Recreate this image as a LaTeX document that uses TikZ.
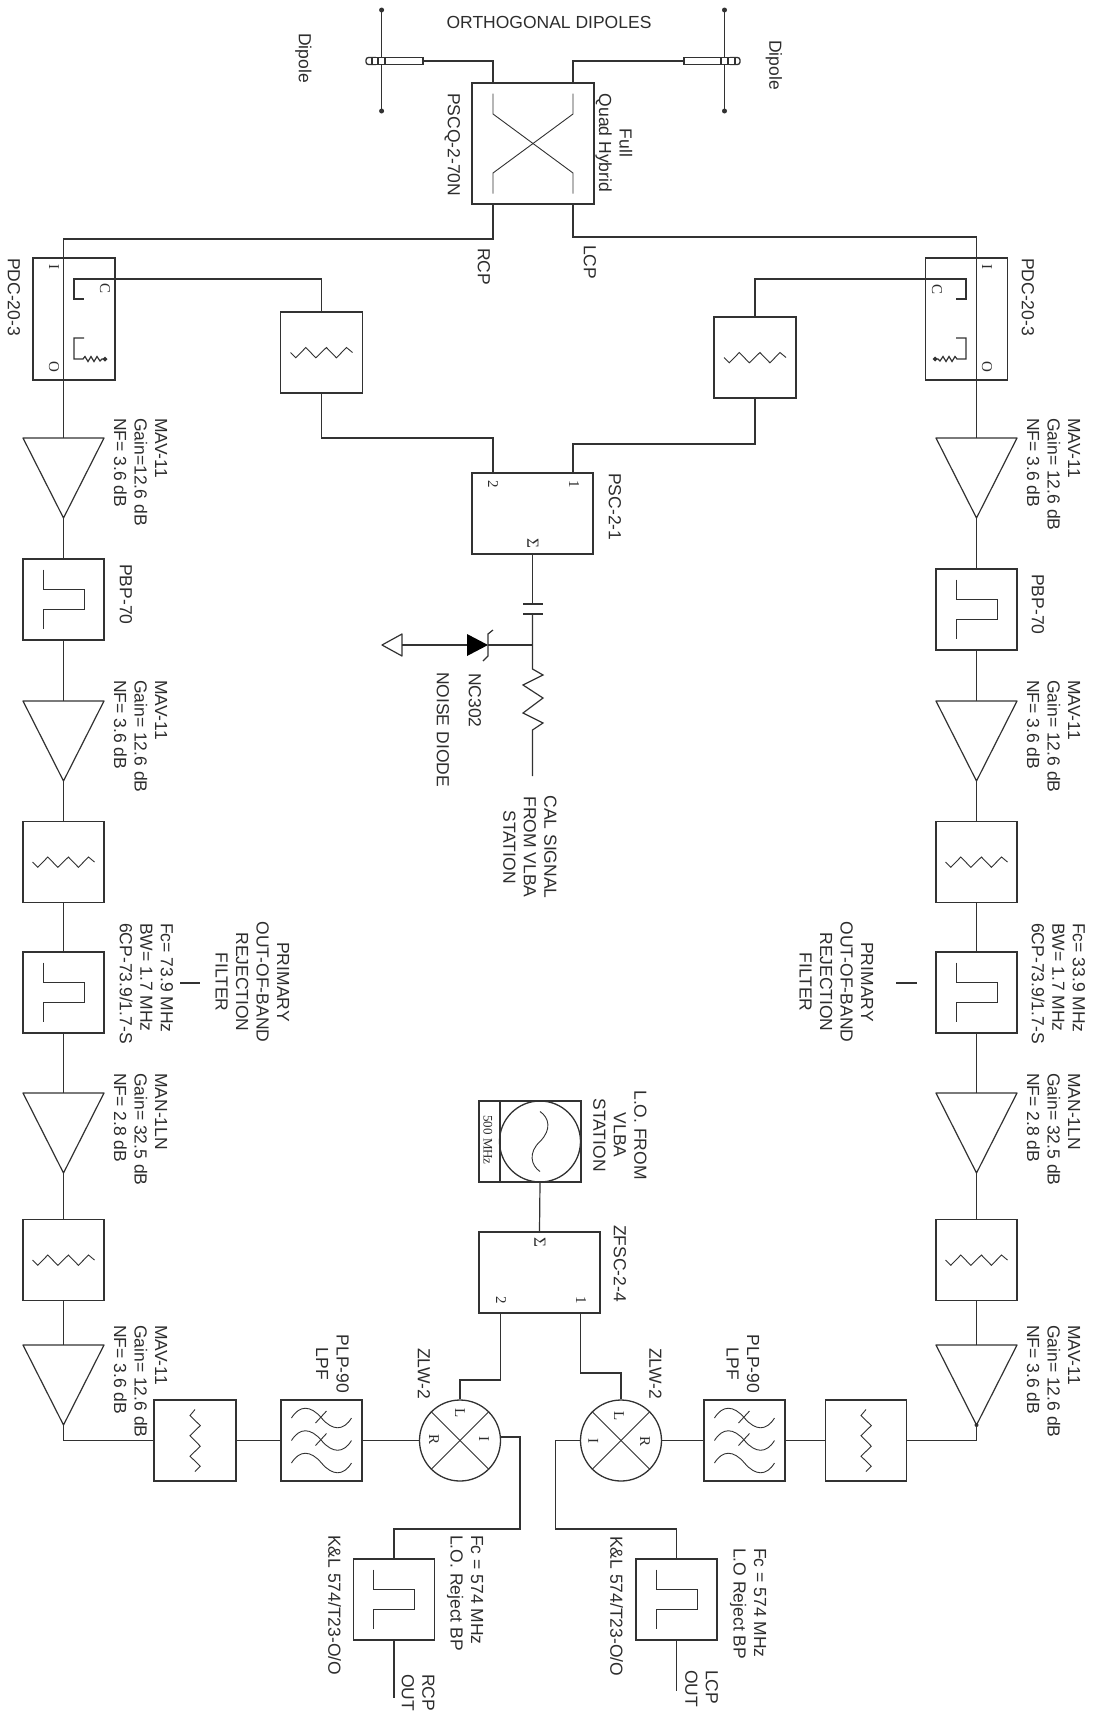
\documentclass[tikz,border=0pt]{standalone}
\usepackage{fontspec}
\setmainfont{Liberation Sans}
\newfontfamily\portfont{Liberation Serif}
\definecolor{rxLine}{RGB}{50,50,50}
\definecolor{rxText}{RGB}{45,45,45}
\tikzset{
  wire/.style={draw=rxLine, line width=1.2pt},
  symline/.style={draw=rxLine, line width=0.9pt},
  unitbox/.style={draw=rxLine, line width=1.3pt, fill=white, inner sep=0pt, minimum width=81pt, minimum height=81pt},
  lblflat/.style={inner sep=0pt, text=rxText, font=\fontsize{17.5}{20.5}\selectfont},
  lbl/.style={lblflat, rotate=-90, anchor=north west, align=left},
  lblmid/.style={lblflat, rotate=-90, anchor=center, align=center},
  port/.style={rotate=-90, inner sep=0pt, text=rxText, font=\portfont\fontsize{15}{15}\selectfont},
}
\newcommand{\ampli}[3]{%
  \coordinate (#1in) at (#2,#3);
  \coordinate (#1out) at (#2,#3+80);
  \draw[rxLine, line width=1.2pt, line join=round] (#2-40.5,#3) -- (#2+40.5,#3) -- (#2,#3+80) -- cycle;
}
\newcommand{\attnzig}[2][0]{%
  \draw[symline, shift={(#2.center)}, rotate=#1] (-31,0) -- (-25.7,5.3) -- (-15.7,-5) -- (-5.7,5.3) -- (4.9,-5) -- (14.9,5.3) -- (25,-5) -- (31,0);
}
\newcommand{\bandpass}[1]{%
  \draw[symline, shift={(#1.center)}] (-20.5,-30) -- (-20.5,-10) -- (20.5,-10) -- (20.5,10) -- (-20.5,10) -- (-20.5,29);
}
\newcommand{\lowpass}[1]{%
  \begin{scope}[shift={(#1.center)}]
  \foreach \wy in {-22.5,0,22.5}
    \draw[symline] (-30,\wy) .. controls (-22,\wy-13) and (-11,\wy-13) .. (0,\wy) .. controls (11,\wy+13) and (22,\wy+13) .. (30,\wy);
  \foreach \wy in {-22.5,0}
    \draw[symline] (5,\wy-7) -- (-6,\wy+5);
  \end{scope}
}
\newcommand{\termination}{%
  \draw[wire] (84,338) -- (74,338) -- (74,359) -- (83,359) -- (85,356.5) -- (88,361.5) -- (91,356.5) -- (94,361.5) -- (97,356.5) -- (100,361) -- (102,359) -- (105,359);
  \fill[rxLine] (105,356.5) -- (107.5,359) -- (105,361.5) -- (102.5,359) -- cycle;
}
\begin{document}
\begin{tikzpicture}[x=1pt, y=-1pt]
\useasboundingbox (0,0) rectangle (1095,1711);
%% Dipoles and hybrid
\node[lblflat] (tOrtho) at (549,22) {ORTHOGONAL DIPOLES};
\draw[wire] (381.6,10) -- (381.6,111);
\draw[wire] (724.5,10) -- (724.5,111);
\foreach \dx in {381.6,724.5}
  \foreach \dy in {10,111}
    \fill[rxLine] (\dx,\dy) circle (2.5pt);
\node[unitbox, rounded corners=2.5pt, minimum width=12pt, minimum height=7pt] (capL) at (372,61) {};
\node[unitbox, minimum width=51pt, minimum height=7pt] (tubeL) at (397.5,61) {};
\node[unitbox, minimum width=7pt, minimum height=7pt] (sqL) at (381.6,61) {};
\node[unitbox, rounded corners=2.5pt, minimum width=12pt, minimum height=7pt] (capR) at (734,61) {};
\node[unitbox, minimum width=51pt, minimum height=7pt] (tubeR) at (709.5,61) {};
\node[unitbox, minimum width=7pt, minimum height=7pt] (sqR) at (724.5,61) {};
\node[unitbox, minimum width=122pt, minimum height=121pt] (hyb) at (533,143.5) {};
\draw[symline, shift={(hyb.center)}] (-40,-50) -- (-40,-29.5) -- (40,29.5) -- (40,50);
\draw[symline, shift={(hyb.center)}] (40,-50) -- (40,-29.5) -- (-40,29.5) -- (-40,50);
\coordinate (hybInL) at (493,83);
\coordinate (hybInR) at (573,83);
\coordinate (hybOutL) at (493,204);
\coordinate (hybOutR) at (573,204);
\coordinate (bendRCP) at (63.5,239);
\coordinate (bendLCP) at (976.5,237);
\draw[wire] (tubeL.east) -| (hybInL);
\draw[wire] (tubeR.west) -| (hybInR);
\node[lbl] (tDipL) at (311.8,33) {Dipole};
\node[lbl] (tDipR) at (782.3,40) {Dipole};
\node[lbl] (tPscq) at (460.3,93) {PSCQ-2-70N};
\node[lblmid] (tHyb) at (614,143) {Full\\Quad Hybrid};
\node[lbl] (tRcp) at (490.3,248) {RCP};
\node[lbl] (tLcp) at (596.3,245) {LCP};
%% Left chain
\node[unitbox, minimum width=82pt, minimum height=122pt, fill=none] (pdcL) at (74,319) {};
\ampli{ampLa}{63.5}{438}
\node[unitbox] (pbpL) at (63.5,599.5) {};
\ampli{ampLb}{63.5}{701}
\node[unitbox] (attLb) at (63.5,862) {};
\node[unitbox] (fltL) at (63.5,992.5) {};
\ampli{ampLc}{63.5}{1093}
\node[unitbox] (attLc) at (63.5,1260) {};
\ampli{ampLd}{63.5}{1345}
\node[unitbox, minimum width=82pt] (attLd) at (195,1440.5) {};
\node[unitbox] (plpL) at (321.5,1440.5) {};
\node[unitbox, circle, minimum size=81pt] (mixL) at (460,1440.5) {};
\node[unitbox] (fltRCP) at (394,1599.5) {};
\attnzig{attLb}
\attnzig{attLc}
\attnzig[90]{attLd}
\bandpass{pbpL}
\bandpass{fltL}
\bandpass{fltRCP}
\lowpass{plpL}
\draw[symline] (mixL.north west) -- (mixL.south east);
\draw[symline] (mixL.north east) -- (mixL.south west);
\coordinate (bendMixL) at (500.5,1380);
\coordinate (zfscOutL) at (500.5,1313);
\coordinate (bendOutL) at (520,1529);
\coordinate (endRCP) at (394,1698);
\draw[wire] (hybOutL) |- (bendRCP) -- (ampLain);
\draw[wire] (ampLaout) -- (pbpL.north);
\draw[wire] (pbpL.south) -- (ampLbin);
\draw[wire] (ampLbout) -- (attLb.north);
\draw[wire] (attLb.south) -- (fltL.north);
\draw[wire] (fltL.south) -- (ampLcin);
\draw[wire] (ampLcout) -- (attLc.north);
\draw[wire] (attLc.south) -- (ampLdin);
\draw[wire] (ampLdout) |- (attLd.west);
\draw[wire] (attLd.east) -- (plpL.west);
\draw[wire] (plpL.east) -- (mixL.west);
\draw[wire] (mixL.north) |- (bendMixL) -- (zfscOutL);
\draw[wire] (mixL.5) -| (bendOutL) -| (fltRCP.north);
\draw[wire] (fltRCP.south) -- (endRCP);
\node[port] (pIL) at (54,267) {I};
\node[port] (pCL) at (105,288) {C};
\node[port] (pOL) at (54,367) {O};
\node[port] (mLL) at (460,1413) {L};
\node[port] (mRL) at (434,1439) {R};
\node[port] (mIL) at (484,1439) {I};
\node[lbl] (tPdcL) at (20.3,258) {PDC-20-3};
\node[lbl] (tAmpLa) at (167.3,418) {MAV-11\\Gain=12.6 dB\\NF= 3.6 dB};
\node[lbl] (tPbpL) at (132.3,564) {PBP-70};
\node[lbl] (tAmpLb) at (167.3,680) {MAV-11\\Gain= 12.6 dB\\NF= 3.6 dB};
\node[lbl] (tFltL) at (173.3,923) {Fc= 73.9 MHz\\BW= 1.7 MHz\\6CP-73.9/1.7-S};
\node[lblmid] (tPrimL) at (252.5,982) {PRIMARY\\OUT-OF-BAND\\REJECTION\\FILTER};
\draw[wire] (180,983) -- (200,983);
\node[lbl] (tAmpLc) at (167.3,1073) {MAN-1LN\\Gain= 32.5 dB\\NF= 2.8 dB};
\node[lbl] (tAmpLd) at (167.3,1325) {MAV-11\\Gain= 12.6 dB\\NF= 3.6 dB};
\node[lblmid] (tPlpL) at (332.5,1364) {PLP-90\\LPF};
\node[lbl] (tZlwL) at (430.3,1348) {ZLW-2};
\node[lbl] (tFcL) at (483.3,1535) {Fc = 574 MHz\\L.O. Reject BP};
\node[lbl] (tKlL) at (341.3,1535) {K\&L 574/T23-O/O};
\node[lbl] (tOutL) at (434.9,1674) {RCP\\OUT};
%% Right chain
\node[unitbox, minimum width=82pt, minimum height=122pt, fill=none] (pdcR) at (966.5,319) {};
\ampli{ampRa}{976.5}{438}
\node[unitbox] (pbpR) at (976.5,609.5) {};
\ampli{ampRb}{976.5}{701}
\node[unitbox] (attRb) at (976.5,862) {};
\node[unitbox] (fltR) at (976.5,992.5) {};
\ampli{ampRc}{976.5}{1093}
\node[unitbox] (attRc) at (976.5,1260) {};
\ampli{ampRd}{976.5}{1345}
\node[unitbox] (attRd) at (866,1440.5) {};
\node[unitbox] (plpR) at (744.5,1440.5) {};
\node[unitbox, circle, minimum size=81pt] (mixR) at (621,1440.5) {};
\node[unitbox] (fltLCP) at (676.5,1599.5) {};
\attnzig{attRb}
\attnzig{attRc}
\attnzig[90]{attRd}
\bandpass{pbpR}
\bandpass{fltR}
\bandpass{fltLCP}
\lowpass{plpR}
\draw[symline] (mixR.north west) -- (mixR.south east);
\draw[symline] (mixR.north east) -- (mixR.south west);
\coordinate (bendMixR) at (580.5,1373);
\coordinate (zfscOutR) at (580.5,1313);
\coordinate (bendOutR) at (555.5,1529);
\coordinate (endLCP) at (676.5,1691);
\draw[wire] (hybOutR) |- (bendLCP) -- (ampRain);
\draw[wire] (ampRaout) -- (pbpR.north);
\draw[wire] (pbpR.south) -- (ampRbin);
\draw[wire] (ampRbout) -- (attRb.north);
\draw[wire] (attRb.south) -- (fltR.north);
\draw[wire] (fltR.south) -- (ampRcin);
\draw[wire] (ampRcout) -- (attRc.north);
\draw[wire] (attRc.south) -- (ampRdin);
\draw[wire] (ampRdout) |- (attRd.east);
\fill[rxLine] (ampRdout) circle (2pt);
\draw[wire] (attRd.west) -- (plpR.east);
\draw[wire] (plpR.west) -- (mixR.east);
\draw[wire] (mixR.north) |- (bendMixR) -- (zfscOutR);
\draw[wire] (mixR.west) -| (bendOutR) -| (fltLCP.north);
\draw[wire] (fltLCP.south) -- (endLCP);
\node[port] (pIR) at (987,267) {I};
\node[port] (pCR) at (937,289) {C};
\node[port] (pOR) at (987,367) {O};
\node[port] (mLR) at (619,1416) {L};
\node[port] (mRR) at (645,1441) {R};
\node[port] (mIR) at (593.4,1441) {I};
\node[lbl] (tPdcR) at (1034.3,258) {PDC-20-3};
\node[lbl] (tAmpRa) at (1080.3,418) {MAV-11\\Gain= 12.6 dB\\NF= 3.6 dB};
\node[lbl] (tPbpR) at (1044.3,574) {PBP-70};
\node[lbl] (tAmpRb) at (1080.3,680) {MAV-11\\Gain= 12.6 dB\\NF= 3.6 dB};
\node[lbl] (tFltR) at (1085.3,923) {Fc= 33.9 MHz\\BW= 1.7 MHz\\6CP-73.9/1.7-S};
\node[lblmid] (tPrimR) at (836.5,982) {PRIMARY\\OUT-OF-BAND\\REJECTION\\FILTER};
\draw[wire] (896,983) -- (917,983);
\node[lbl] (tAmpRc) at (1080.3,1073) {MAN-1LN\\Gain= 32.5 dB\\NF= 2.8 dB};
\node[lbl] (tAmpRd) at (1080.3,1325) {MAV-11\\Gain= 12.6 dB\\NF= 3.6 dB};
\node[lblmid] (tPlpR) at (743,1364) {PLP-90\\LPF};
\node[lbl] (tZlwR) at (661.9,1348) {ZLW-2};
\node[lbl] (tFcR) at (766.3,1548) {Fc = 574 MHz\\L.O Reject BP};
\node[lbl] (tKlR) at (623.3,1536) {K\&L 574/T23-O/O};
\node[lbl] (tOutR) at (718.3,1670) {LCP\\OUT};
%% Couplers and calibration attenuators
\node[unitbox, minimum width=82pt] (attCalL) at (321.5,352.5) {};
\node[unitbox, minimum width=82pt] (attCalR) at (755,357.5) {};
\attnzig{attCalL}
\attnzig{attCalR}
\coordinate (cplL) at (74,279);
\coordinate (cplR) at (966,279);
\draw[wire] (attCalL.north) |- (cplL) -- (74,299) -- (84,299);
\draw[wire] (attCalR.north) |- (cplR) -- (966,299) -- (956,299);
\termination
\begin{scope}[shift={(1040,0)}, xscale=-1]
  \termination
\end{scope}
%% Calibration splitter and noise diode
\node[unitbox, minimum width=121pt] (psc) at (532.5,513.5) {};
\coordinate (pscInL) at (493,473);
\coordinate (pscInR) at (573,473);
\coordinate (bendCalL) at (493,438);
\coordinate (bendCalR) at (573,444);
\draw[wire] (attCalL.south) |- (bendCalL) -- (pscInL);
\draw[wire] (attCalR.south) |- (bendCalR) -- (pscInR);
\node[port] (pTwoC) at (493,484) {2};
\node[port] (pOneC) at (574,484) {1};
\node[port, font=\portfont\fontsize{17}{17}\selectfont] (pSumC) at (533,543) {Σ};
\coordinate (capT) at (532.5,604);
\coordinate (capB) at (532.5,614);
\coordinate (junc) at (532.5,645);
\coordinate (resT) at (532.5,669);
\coordinate (resB) at (532.5,730);
\coordinate (calEnd) at (532.5,776);
\coordinate (dioK) at (488,645);
\coordinate (dioA) at (467,645);
\coordinate (gndT) at (402,645);
\draw[wire] (psc.south) -- (capT);
\draw[wire] (523,604) -- (543,604);
\draw[wire] (523,614) -- (543,614);
\draw[wire] (capB) -- (resT) -- (543,675) -- (523,685) -- (543,698) -- (523,713) -- (543,723) -- (resB) -- (calEnd);
\draw[wire] (junc) -- (dioK);
\fill[black] (467,634) -- (dioK) -- (467,656) -- cycle;
\draw[wire] (493,630) -- (488,634) -- (488,656) -- (483,661);
\draw[wire] (dioA) -- (gndT);
\draw[wire, line width=2pt] (422,645) -- (443,645);
\draw[wire, line join=round] (402,634) -- (382,645) -- (402,656) -- cycle;
\node[lbl] (tPsc) at (621.3,473) {PSC-2-1};
\node[lbl] (tNc) at (481.3,673) {NC302};
\node[lbl] (tNoise) at (449.3,672) {NOISE DIODE};
\node[lblmid] (tCal) at (530,847) {CAL SIGNAL\\FROM VLBA\\STATION};
%% Local oscillator and splitter
\node[unitbox, minimum width=102pt] (loBox) at (530,1141.5) {};
\draw[wire] (500,1101) -- (500,1182);
\node[unitbox, circle, minimum size=81pt, fill=none] (osc) at (540,1141.5) {};
\draw[symline, shift={(osc.center)}] (0,-30) .. controls (9,-24) and (12,-12) .. (0,0) .. controls (-12,11) and (-9,24) .. (0,30);
\node[port, font=\portfont\fontsize{13}{13}\selectfont] (tLoF) at (488,1140) {500 MHz};
\node[unitbox, minimum width=121pt] (zfsc) at (539.5,1272.5) {};
\draw[wire] (osc.south) -- (zfsc.north);
\node[port] (pTwoL) at (501,1300) {2};
\node[port] (pOneL) at (581,1300) {1};
\node[port, font=\portfont\fontsize{17}{17}\selectfont] (pSumL) at (540,1242) {Σ};
\node[lbl] (tZfsc) at (626.3,1225) {ZFSC-2-4};
\node[lblmid] (tLo) at (620,1135) {L.O. FROM\\VLBA\\STATION};
\end{tikzpicture}
\end{document}
